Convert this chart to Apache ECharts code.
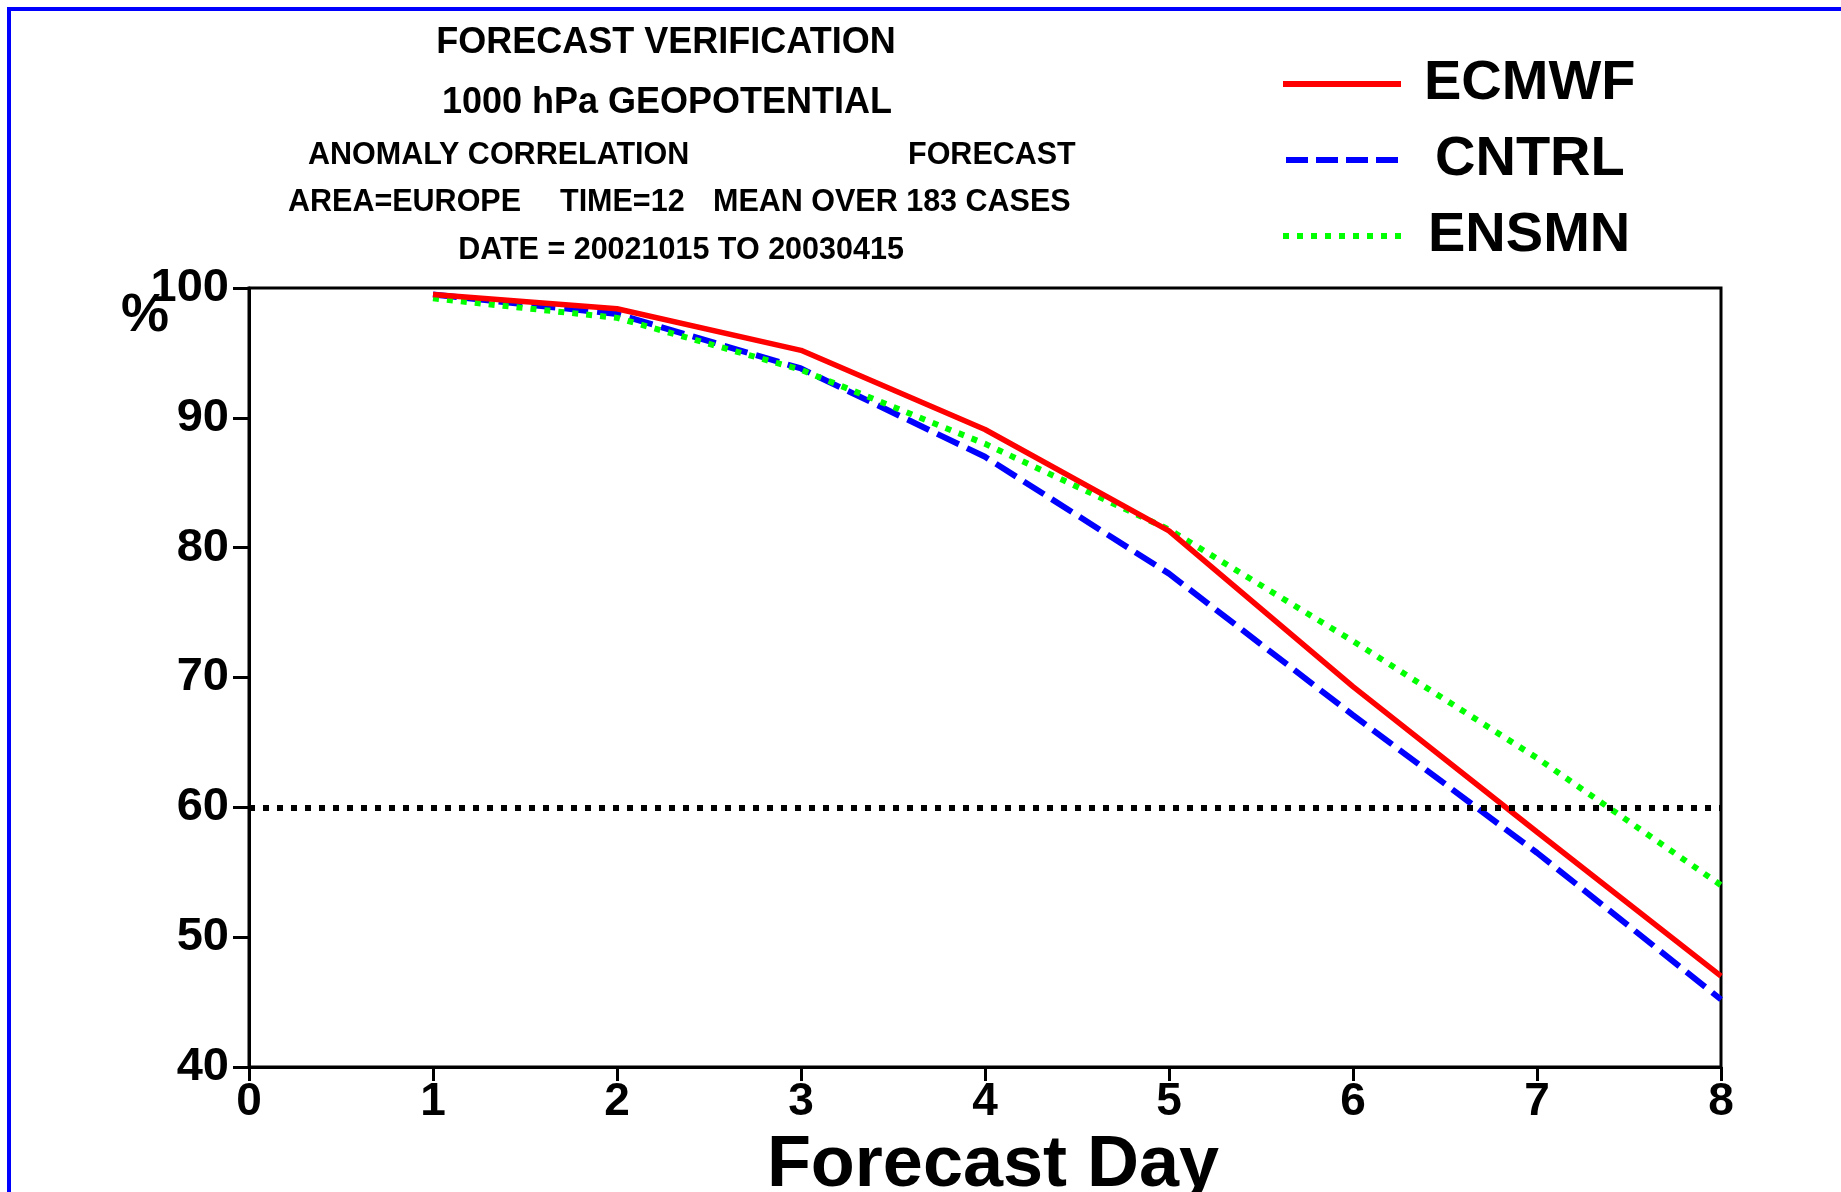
<!DOCTYPE html>
<html>
<head>
<meta charset="utf-8">
<title>Forecast verification</title>
<script src="https://cdn.jsdelivr.net/npm/echarts@6/dist/echarts.min.js"></script>
<style>
  html, body { margin: 0; padding: 0; background: #fff; }
  #charts { width: 1841px; height: 1192px; }
</style>
</head>
<body>
<div id="charts"></div>
<script>
// forecast days and anomaly correlation (%) per model
var days = [1, 2, 3, 4, 5, 6, 7, 8];
var ecmwf = [99.5, 98.4, 95.2, 89.1, 81.3, 69.3, 58.1, 47.0];
var cntrl = [99.5, 98.0, 93.8, 87.0, 78.0, 67.1, 56.5, 45.2];
var ensmn = [99.2, 97.7, 93.7, 88.0, 81.4, 72.8, 63.8, 54.0];
var threshold = 60;
var xTicks = [0, 1, 2, 3, 4, 5, 6, 7, 8];
var yTicks = [40, 50, 60, 70, 80, 90, 100];

var FONT = '"Liberation Sans", Arial, sans-serif';

function pairs(vals) {
    var out = [];
    for (var i = 0; i < days.length; i++) {
        out.push([days[i], vals[i]]);
    }
    return out;
}

function txt(str, x, y, size, align) {
    return {
        type: 'text', x: x, y: y, silent: true,
        style: {
            text: str, fill: '#000', font: 'bold ' + size + 'px ' + FONT,
            align: align || 'center', verticalAlign: 'middle'
        }
    };
}

// legend line sample drawn as a path of dashes (dash, gap) over 118 x 6
function dashIcon(dash, gap) {
    var p = 'path://';
    for (var x = 0; x < 118; x += dash + gap) {
        var w = Math.min(dash, 118 - x);
        p += 'M' + x + ',0H' + (x + w) + 'V6H' + x + 'Z';
    }
    return p;
}

var chartsDoc = document.getElementById('charts');
var charts = echarts.init(chartsDoc, null, { renderer: 'canvas' });

var legendText = { fontSize: 56, fontWeight: 'bold', color: '#000', lineHeight: 56 };

var option = {
    animation: false,
    backgroundColor: '#fff',
    textStyle: { fontFamily: FONT },
    grid: {
        left: 249, right: 120, top: 288, bottom: 125,
        outerBoundsMode: 'none', containLabel: false,
        show: true, borderColor: '#000', borderWidth: 3, backgroundColor: 'transparent'
    },
    legend: {
        orient: 'vertical',
        left: 1278, top: 51,
        itemWidth: 118, itemHeight: 6, itemGap: 20,
        textStyle: legendText,
        data: [
            { name: 'ECMWF', icon: dashIcon(118, 0), itemStyle: { color: '#ff0000' },
              textStyle: { padding: [0, 0, 0, 18] } },
            { name: 'CNTRL', icon: dashIcon(22, 8), itemStyle: { color: '#0000ff' },
              textStyle: { padding: [0, 0, 0, 29] } },
            { name: 'ENSMN', icon: dashIcon(6, 8), itemStyle: { color: '#00ff00' },
              textStyle: { padding: [0, 0, 0, 22] } }
        ]
    },
    xAxis: {
        type: 'value', min: xTicks[0], max: xTicks[xTicks.length - 1], interval: 1,
        name: 'Forecast Day', nameLocation: 'middle', nameGap: 52,
        nameTextStyle: { fontSize: 72, fontWeight: 'bold', color: '#000', padding: [0, 0, 0, 16] },
        axisLine: { show: true, lineStyle: { color: '#000', width: 3 } },
        axisTick: { show: true, length: 14, lineStyle: { color: '#000', width: 3 } },
        axisLabel: { fontSize: 46, fontWeight: 'bold', color: '#000', margin: 12 },
        splitLine: { show: false }
    },
    yAxis: {
        type: 'value', min: yTicks[0], max: yTicks[yTicks.length - 1], interval: 10,
        axisLine: { show: true, lineStyle: { color: '#000', width: 3 } },
        axisTick: { show: true, length: 16, lineStyle: { color: '#000', width: 3 } },
        axisLabel: { fontSize: 47, fontWeight: 'bold', color: '#000', margin: 20 },
        splitLine: { show: false }
    },
    series: [
        {
            name: 'ECMWF', type: 'line', data: pairs(ecmwf), symbol: 'none', z: 4,
            lineStyle: { color: '#ff0000', width: 5.5 },
            itemStyle: { color: '#ff0000' },
            markLine: {
                silent: true, symbol: 'none', animation: false,
                label: { show: false },
                lineStyle: { color: '#000', width: 6, type: [6, 8] },
                data: [{ yAxis: threshold }]
            }
        },
        {
            name: 'CNTRL', type: 'line', data: pairs(cntrl), symbol: 'none', z: 3,
            lineStyle: { color: '#0000ff', width: 6, type: [24, 9] },
            itemStyle: { color: '#0000ff' }
        },
        {
            name: 'ENSMN', type: 'line', data: pairs(ensmn), symbol: 'none', z: 3,
            lineStyle: { color: '#00ff00', width: 6, type: [6, 8] },
            itemStyle: { color: '#00ff00' }
        }
    ],
    graphic: [
        // blue frame of the slide
        {
            type: 'polyline', silent: true,
            shape: { points: [[9, 1200], [9, 9], [1850, 9]] },
            style: { stroke: '#0000ff', lineWidth: 4, fill: null }
        },
        txt('FORECAST VERIFICATION', 666, 43, 36),
        txt('1000 hPa GEOPOTENTIAL', 667, 103, 36),
        txt('ANOMALY CORRELATION', 308, 156, 30.5, 'left'),
        txt('FORECAST', 908, 156, 30.5, 'left'),
        txt('AREA=EUROPE', 288, 203, 30.5, 'left'),
        txt('TIME=12', 560, 203, 30.5, 'left'),
        txt('MEAN OVER 183 CASES', 713, 203, 30.5, 'left'),
        txt('DATE = 20021015 TO 20030415', 681, 251, 30.5),
        txt('%', 145, 316, 54)
    ]
};

charts.setOption(option);
</script>
</body>
</html>
